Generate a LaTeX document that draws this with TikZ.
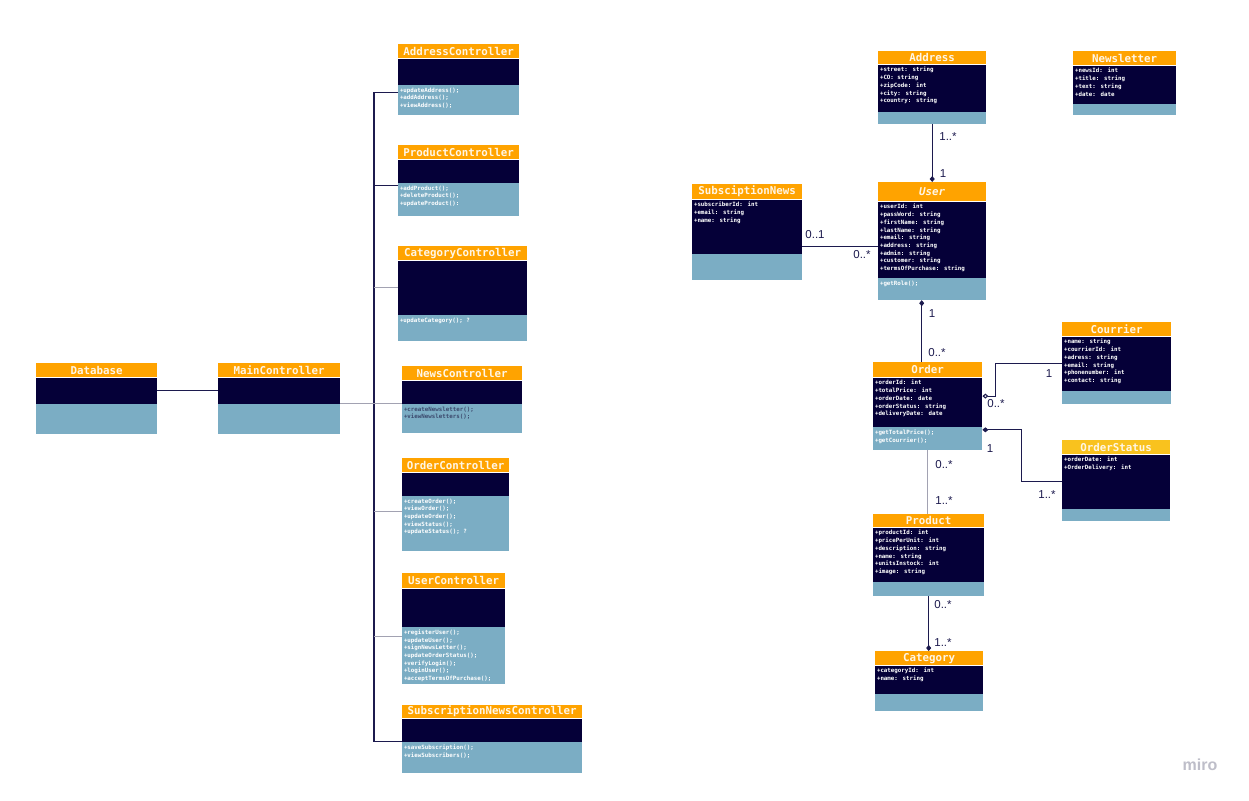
\documentclass[tikz,border=0pt]{standalone}
\usepackage{fontspec}
\usetikzlibrary{arrows.meta,calc}
\newfontfamily\hdrfont{DejaVu Sans Mono}
\newfontfamily\bodyfnt{DejaVu Sans Mono}
\newfontfamily\lblfont{Liberation Sans}
\definecolor{hdr}{HTML}{FFA300}
\definecolor{hdryel}{HTML}{F9C21E}
\definecolor{navy}{HTML}{050038}
\definecolor{lblue}{HTML}{7BADC4}
\definecolor{htxt}{HTML}{FFF6E6}
\definecolor{lnk}{HTML}{1C1A4E}
\definecolor{lgray}{HTML}{A2A2B2}
\definecolor{dtxt}{HTML}{3C4A6E}
\tikzset{
  hdrbox/.style={fill=hdr,inner sep=0pt,anchor=north west,text=htxt,font=\hdrfont\bfseries\fontsize{10.8}{12}\selectfont},
  attrbox/.style={fill=navy,inner sep=0pt,anchor=north west},
  methbox/.style={fill=lblue,inner sep=0pt,anchor=north west},
  txt/.style={inner sep=0pt,anchor=north west,align=left,text=white,font=\bodyfnt\bfseries\fontsize{5.8}{7.7}\selectfont},
  dk/.style={draw=lnk,line width=1.1pt},
  gr/.style={draw=lgray,line width=1pt},
  mult/.style={inner sep=0pt,text=lnk,font=\lblfont\fontsize{11.5}{13}\selectfont},
  dia/.style={{Diamond[length=6pt,width=5pt]}-},
  odia/.style={{Diamond[open,length=6pt,width=5pt,fill=white]}-}
}
% #1 name, #2 top-left, #3 width, #4 header h, #5 attr h, #6 method h, #7 title, #8 attributes
\newcommand\umlcls[8]{%
  \node[hdrbox,minimum width=#3,minimum height=#4] (#1) at #2 {#7};
  \node[attrbox,minimum width=#3,minimum height=#5] (#1-a) at (#1.south west) {};
  \node[txt] (#1-at) at ([xshift=1.8pt,yshift=-2.6pt]#1-a.north west) {#8};
  \node[methbox,minimum width=#3,minimum height=#6] (#1-m) at (#1-a.south west) {};
}
\newcommand\umlmeth[3][white]{%
  \node[txt,text=#1] (#2-mt) at ([xshift=1.8pt,yshift=-2.6pt]#2-m.north west) {#3};
}
\begin{document}
\begin{tikzpicture}[x=1pt,y=-1pt]
\useasboundingbox (0,0) rectangle (1249,800);
\fill[white] (0,0) rectangle (1249,800);

% ---------- left side ----------
\umlcls{db}{(36,363)}{121}{14}{26}{30}{Database}{}
\umlcls{mainC}{(218,363)}{122}{14}{26}{30}{MainController}{}
\umlcls{addrC}{(398,44)}{121}{14}{26}{30}{AddressController}{}
\umlmeth{addrC}{+updateAddress();\\+addAddress();\\+viewAddress();}
\umlcls{prodC}{(398,145)}{121}{14}{23}{33}{ProductController}{}
\umlmeth{prodC}{+addProduct();\\+deleteProduct();\\+updateProduct():}
\umlcls{catC}{(398,246)}{129}{14}{54}{26}{CategoryController}{}
\umlmeth{catC}{+updateCategory(); ?}
\umlcls{newsC}{(402,366)}{120}{14}{23}{29}{NewsController}{}
\umlmeth[dtxt]{newsC}{+createNewsletter();\\+viewNewsletters();}
\umlcls{ordC}{(402,458)}{107}{14}{23}{55}{OrderController}{}
\umlmeth{ordC}{+createOrder();\\+viewOrder();\\+updateOrder();\\+viewStatus();\\+updateStatus(); ?}
\umlcls{userC}{(402,573)}{103}{15}{38}{57}{UserController}{}
\umlmeth{userC}{+registerUser();\\+updateUser();\\+signNewsLetter();\\+updateOrderStatus();\\+verifyLogin();\\+loginUser();\\+acceptTermsOfPurchase();}
\umlcls{subC}{(402,705)}{180}{13}{23}{31}{SubscriptionNewsController}{}
\umlmeth{subC}{+saveSubscription();\\+viewSubscribers();}

\coordinate (trunk) at (374,0);
\draw[dk] (db-a.east) -- (mainC-a.west);
\draw[dk] ([yshift=-8pt]addrC-m.north west) -| (trunk |- subC-m.north west) -- (subC-m.north west);
\draw[dk] ([yshift=-3pt]prodC-m.north west) coordinate (pb) -- (trunk |- pb);
\draw[gr] (catC-a.west) -- (trunk |- catC-a.west);
\draw[gr] (mainC-m.north east) -- (newsC-m.north west);
\draw[gr] ([yshift=-16pt]ordC-m.north west) coordinate (ob) -- (trunk |- ob);
\draw[gr] ([yshift=-10pt]userC-m.north west) coordinate (ub) -- (trunk |- ub);

% ---------- right side ----------
\umlcls{address}{(878,51)}{108}{13}{47}{12}{Address}{+street: string\\+CO: string\\+zipCode: int\\+city: string\\+country: string}
\umlcls{newsl}{(1073,51)}{103}{14}{38}{11}{Newsletter}{+newsId: int\\+title: string\\+text: string\\+date: date}
\umlcls{subs}{(692,184)}{110}{15}{54}{26}{SubsciptionNews}{+subscriberId: int\\+email: string\\+name: string}
\umlcls{user}{(878,182)}{108}{19}{76}{22}{\itshape User}{+userId: int\\+passWord: string\\+firstName: string\\+lastName: string\\+email: string\\+address: string\\+admin: string\\+customer: string\\+termsOfPurchase: string}
\umlmeth{user}{+getRole();}
\umlcls{order}{(873,362)}{109}{15}{49}{23}{Order}{+orderId: int\\+totalPrice: int\\+orderDate: date\\+orderStatus: string\\+deliveryDate: date}
\umlmeth{order}{+getTotalPrice();\\+getCourrier();}
\umlcls{courr}{(1062,322)}{109}{14}{54}{13}{Courrier}{+name: string\\+courrierId: int\\+adress: string\\+email: string\\+phonenumber: int\\+contact: string}
\umlcls{ostat}{(1062,440)}{108}{14}{54}{12}{OrderStatus}{+orderDate: int\\+OrderDelivery: int}
\node[hdrbox,fill=hdryel,minimum width=108,minimum height=14] (ostatY) at (1062,440) {OrderStatus};
\umlcls{prod}{(873,514)}{111}{13}{54}{14}{Product}{+productId: int\\+pricePerUnit: int\\+description: string\\+name: string\\+unitsInstock: int\\+image: string}
\umlcls{cat}{(875,651)}{108}{14}{28}{17}{Category}{+categoryId: int\\+name: string}

% connectors
\draw[dk,dia] (user.north) -- (user.north |- address-m.south);
\draw[dk] ([yshift=7pt]subs-a.south east) coordinate (sx) -- (sx -| user-a.west);
\coordinate (ux) at ([xshift=-6pt]order.north);
\draw[dk,dia] (ux |- user-m.south) -- (ux);
\draw[dk,odia] ([yshift=6pt]order-a.east) -- ++(13,0) |- (courr-a.west);
\draw[dk,dia] ([yshift=-3pt]order-m.north east) -- ++(39,0) |- (ostat-a.west);
\draw[gr] (order-m.south) -- (order-m.south |- prod.north);
\draw[dk,dia] (prod-m.south |- cat.north) -- (prod-m.south);

% multiplicities
\node[mult] (m1) at (948,137) {1..*};
\node[mult] (m2) at (943,174) {1};
\node[mult] (m3) at (815,235) {0..1};
\node[mult] (m4) at (862,255) {0..*};
\node[mult] (m5) at (932,314) {1};
\node[mult] (m6) at (937,353) {0..*};
\node[mult] (m7) at (1049,374) {1};
\node[mult] (m8) at (996,404) {0..*};
\node[mult] (m9) at (990,449) {1};
\node[mult] (m10) at (1047,495) {1..*};
\node[mult] (m11) at (944,465) {0..*};
\node[mult] (m12) at (944,501) {1..*};
\node[mult] (m13) at (943,605) {0..*};
\node[mult] (m14) at (943,643) {1..*};

\node[inner sep=0pt,text=lgray!70,font=\lblfont\bfseries\fontsize{16}{17}\selectfont] (miro) at (1200,765) {miro};
\end{tikzpicture}
\end{document}
